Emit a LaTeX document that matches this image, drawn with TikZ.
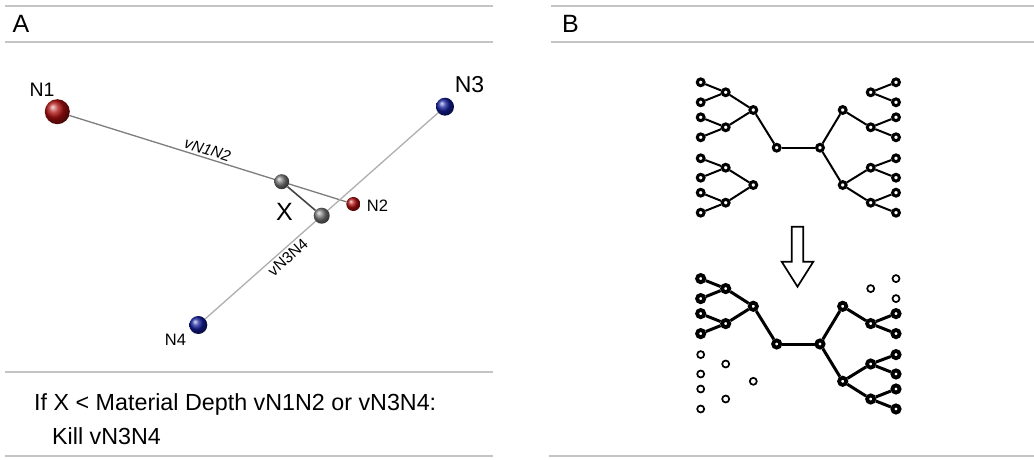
\documentclass[tikz,border=0pt]{standalone}
\usepackage{fontspec}
\setmainfont{Liberation Sans}
\usetikzlibrary{backgrounds}
\definecolor{rulegray}{RGB}{196,196,196}
\definecolor{ballred}{RGB}{175,15,15}
\definecolor{ballblue}{RGB}{20,30,155}
\definecolor{ballgray}{RGB}{120,120,120}
\definecolor{linkmid}{RGB}{125,125,125}
\definecolor{linklight}{RGB}{175,175,175}
\definecolor{linkdark}{RGB}{70,70,70}
\begin{document}
\begin{tikzpicture}[x=1pt,y=-1pt,
  rule/.style={draw=rulegray,line width=1.6pt},
  paneltitle/.style={anchor=base west,inner sep=0pt,font=\fontsize{25}{30}\selectfont},
  sphere/.style={circle,inner sep=0pt,ball color=#1},
  tag/.style={inner sep=0pt,font=\fontsize{#1}{#1}\selectfont},
  edgetag/.style={inner sep=2.5pt,font=\fontsize{15.5}{15.5}\selectfont},
  linkA/.style={draw=linkmid,line width=1.3pt},
  linkB/.style={draw=linklight,line width=1.3pt},
  linkX/.style={draw=linkdark,line width=1.6pt},
  tn/.style={circle,draw,fill=white,line width=3pt,minimum size=6.8pt,inner sep=0pt},
  tb/.style={circle,draw,fill=white,line width=3.8pt,minimum size=7.2pt,inner sep=0pt},
  td/.style={circle,draw,fill=white,line width=1.7pt,minimum size=7pt,inner sep=0pt},
  tedge/.style={line width=2pt},
  tedgeb/.style={line width=3pt},
  ruletext/.style={anchor=base west,inner sep=0pt,font=\fontsize{23.3}{27}\selectfont}
]
\useasboundingbox (0,0) rectangle (1034,460);
\begin{scope}[on background layer]
  \fill[white] (0,0) rectangle (1034,460);
\end{scope}

% header and footer rules
\draw[rule] (5,6) -- (493,6);
\draw[rule] (5,42.3) -- (493,42.3);
\draw[rule] (5,371.7) -- (493,371.7);
\draw[rule] (5,456) -- (493,456);
\draw[rule] (551,6) -- (1034,6);
\draw[rule] (551,42.3) -- (1034,42.3);
\draw[rule] (549,456) -- (1034,456);

\node[paneltitle] (titleA) at (12.5,33) {A};
\node[paneltitle] (titleB) at (562,33) {B};

% ---- panel A: two vessels and their closest points
\node[sphere=ballred, minimum size=25pt] (N1) at (57.3,111.7) {};
\node[sphere=ballred, minimum size=14pt] (N2) at (353.3,204) {};
\node[sphere=ballblue, minimum size=18pt] (N3) at (445,106.7) {};
\node[sphere=ballblue, minimum size=18pt] (N4) at (198.3,325) {};
\node[sphere=ballgray, minimum size=15pt] (X1) at (281.7,181.7) {};
\node[sphere=ballgray, minimum size=16pt] (X2) at (321.7,215.7) {};

\begin{scope}[on background layer]
  \draw[linkA] (N1) -- node[edgetag, sloped, above, pos=0.49] {\itshape vN1N2} (N2);
  \draw[linkB] (N4) -- node[edgetag, sloped, below, pos=0.33] {vN3N4} (N3);
  \draw[linkX] (X1) -- (X2);
\end{scope}

\node[tag=19.5] (tN1) at (42,89.5) {N1};
\node[tag=23] (tN3) at (469.5,85) {N3};
\node[tag=16.5] (tN2) at (377.5,205.5) {N2};
\node[tag=16.5] (tN4) at (175.5,340) {N4};
\node[tag=25] (tX) at (284.5,212) {X};

\node[ruletext] (cond) at (34,410) {If X < Material Depth vN1N2 or vN3N4:};
\node[ruletext] (act) at (52,444) {Kill vN3N4};

% ---- panel B: tree before pruning
\foreach \i/\y in {1/82.3,2/102.3,3/117.3,4/137.3,5/158.3,6/177.7,7/192.7,8/212.7}{
  \node[tn] (uL\i) at (700.7,\y) {};
  \node[tn] (uR\i) at (896,\y) {};
}
\foreach \i/\y in {1/92.3,2/127.3,3/167.7,4/202.7}{
  \node[tn] (ul\i) at (725.7,\y) {};
  \node[tn] (ur\i) at (870.7,\y) {};
}
\foreach \i/\y in {1/110,2/185}{
  \node[tn] (um\i) at (753.3,\y) {};
  \node[tn] (uM\i) at (842.7,\y) {};
}
\node[tn] (urootL) at (776.7,147.7) {};
\node[tn] (urootR) at (820,147.7) {};
\begin{scope}[on background layer]
  \foreach \a/\b in {uL1/ul1,uL2/ul1,uL3/ul2,uL4/ul2,uL5/ul3,uL6/ul3,uL7/ul4,uL8/ul4,
                     ul1/um1,ul2/um1,ul3/um2,ul4/um2,um1/urootL,urootL/urootR,
                     urootR/uM1,urootR/uM2,uM1/ur2,uM2/ur3,uM2/ur4,
                     ur1/uR1,ur1/uR2,ur2/uR3,ur2/uR4,ur3/uR5,ur3/uR6,ur4/uR7,ur4/uR8}
    \draw[tedge] (\a) -- (\b);
\end{scope}

% pruning arrow
\draw[line width=1.7pt, line join=miter]
  (791.7,226.7) -- (803.3,226.7) -- (803.3,261.7) -- (813.3,261.7)
  -- (797.5,286.7) -- (781.7,261.7) -- (791.7,261.7) -- cycle;

% ---- panel B: tree after pruning
\begin{scope}[shift={(0,196.3)}]
  \foreach \i/\y in {1/82.3,2/102.3,3/117.3,4/137.3}
    \node[tb] (dL\i) at (700.7,\y) {};
  \foreach \i/\y in {5/158.3,6/177.7,7/192.7,8/212.7}
    \node[td] (dL\i) at (700.7,\y) {};
  \foreach \i/\y in {1/82.3,2/102.3}
    \node[td] (dR\i) at (896,\y) {};
  \foreach \i/\y in {3/117.3,4/137.3,5/158.3,6/177.7,7/192.7,8/212.7}
    \node[tb] (dR\i) at (896,\y) {};
  \foreach \i/\y in {1/92.3,2/127.3}
    \node[tb] (dl\i) at (725.7,\y) {};
  \foreach \i/\y in {3/167.7,4/202.7}
    \node[td] (dl\i) at (725.7,\y) {};
  \node[td] (dr1) at (870.7,92.3) {};
  \foreach \i/\y in {2/127.3,3/167.7,4/202.7}
    \node[tb] (dr\i) at (870.7,\y) {};
  \node[tb] (dm1) at (753.3,110) {};
  \node[td] (dm2) at (753.3,185) {};
  \node[tb] (dM1) at (842.7,110) {};
  \node[tb] (dM2) at (842.7,185) {};
  \node[tb] (drootL) at (776.7,147.7) {};
  \node[tb] (drootR) at (820,147.7) {};
\end{scope}
\begin{scope}[on background layer]
  \foreach \a/\b in {dL1/dl1,dL2/dl1,dL3/dl2,dL4/dl2,dl1/dm1,dl2/dm1,dm1/drootL,
                     drootL/drootR,drootR/dM1,drootR/dM2,dM1/dr2,dM2/dr3,dM2/dr4,
                     dr2/dR3,dr2/dR4,dr3/dR5,dr3/dR6,dr4/dR7,dr4/dR8}
    \draw[tedgeb] (\a) -- (\b);
\end{scope}
\end{tikzpicture}
\end{document}
